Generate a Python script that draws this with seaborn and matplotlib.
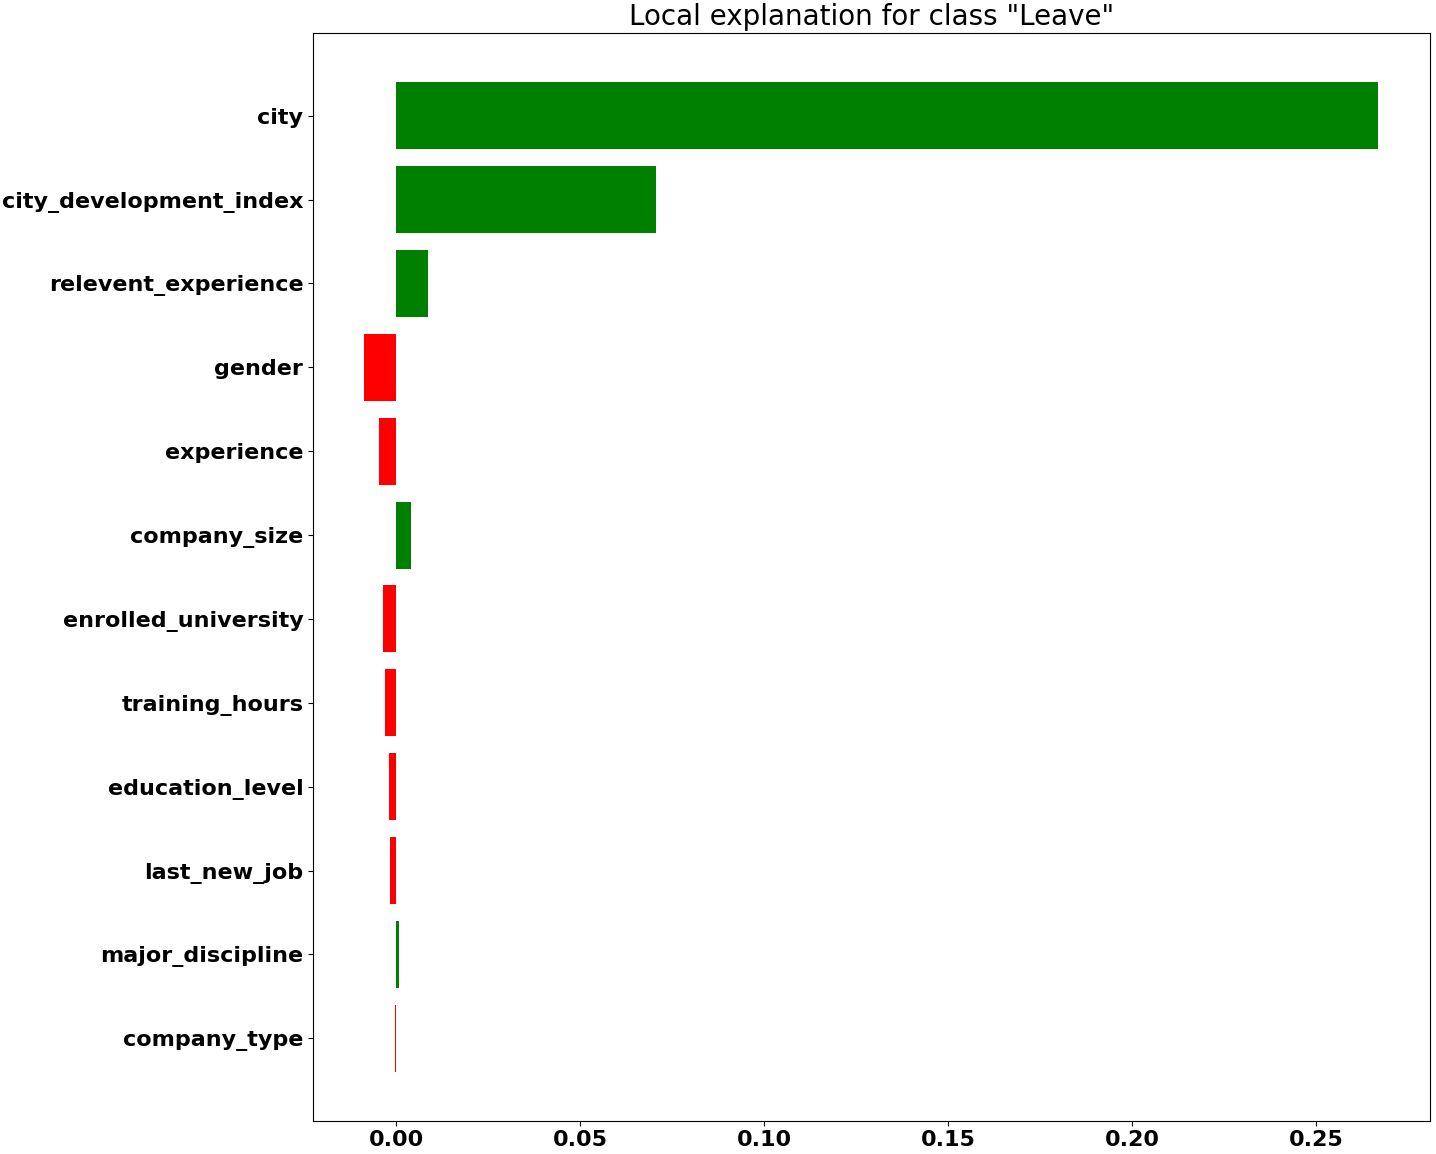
import matplotlib
matplotlib.use("Agg")
import matplotlib.pyplot as plt
import seaborn as sns
import pandas as pd

features = ["city", "city_development_index", "relevent_experience", "gender",
            "experience", "company_size", "enrolled_university", "training_hours",
            "education_level", "last_new_job", "major_discipline", "company_type"]
weights = [0.2668, 0.0707, 0.0087, -0.0087, -0.0046, 0.0041, -0.0035, -0.0030,
           -0.0019, -0.0016, 0.0008, -0.0003]

df = pd.DataFrame({"feature": features, "weight": weights})
df["sign"] = ["pos" if w > 0 else "neg" for w in weights]

plt.rcParams["font.family"] = ["DejaVu Sans"]
fig, ax = plt.subplots(figsize=(14.36, 11.54), dpi=100)
sns.barplot(data=df, x="weight", y="feature", hue="sign",
            palette={"pos": "green", "neg": "red"}, orient="h",
            dodge=False, width=0.8, saturation=1, legend=False, ax=ax)
ax.set_ylim(11.98, -0.98)
ax.set_xlim(-0.0226, 0.281)
ax.set_xlabel("")
ax.set_ylabel("")
ax.set_title('Local explanation for class "Leave"', fontsize=20)
for lbl in ax.get_xticklabels() + ax.get_yticklabels():
    lbl.set_fontsize(16)
    lbl.set_fontweight("bold")
fig.subplots_adjust(left=0.218, right=0.996, top=0.971, bottom=0.029)
fig.savefig("out.png", dpi=100)
